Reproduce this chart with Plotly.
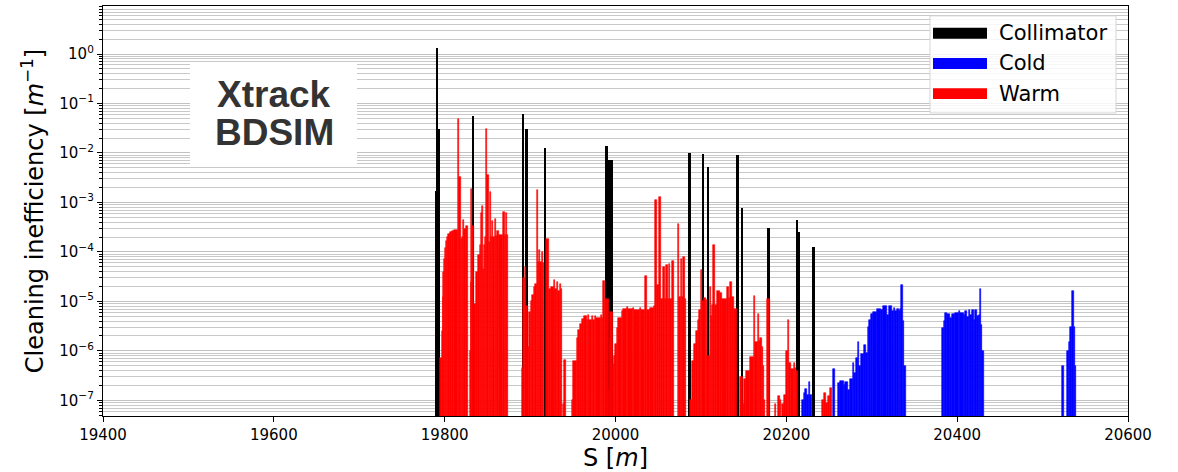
import numpy as np
import plotly.graph_objects as go

# ---------------- data (S in m, cleaning inefficiency in 1/m) ----------------
# Collimator losses (one bar per collimator)
coll_s = [19790.0, 19791.4, 19793.5, 19833.1, 19892.1, 19896.3, 19917.9,
          19989.9, 19993.0, 19995.5, 20087.0, 20102.7, 20108.9, 20143.3,
          20148.3, 20179.2, 20213.1, 20215.1, 20231.9]
coll_v = [1.7e-3, 1.3, 3.05e-2, 5.7e-2, 6.1e-2, 3.05e-2, 1.25e-2,
          1.4e-2, 7.3e-3, 7.1e-3, 1.01e-2, 9.6e-3, 5.1e-3, 9.3e-3,
          7.6e-4, 3.1e-4, 4.5e-4, 2.57e-4, 1.27e-4]

# Warm losses: start of each bin and its value (None closes a block)
warm_s = [
    19794.7, 19796.7, 19797.6, 19798.5, 19799.4, 19800.5, 19801.7, 19802.9, 19804.4, 19806.4,
    19808.7, 19811.1, 19815.4, 19816.9, 19818.7, 19820.8, 19822.0, 19823.1, 19824.8, 19826.9,
    19829.8, 19830.6, 19831.3, 19832.5, 19834.9, 19837.2, 19839.2, 19841.2, 19843.1, 19844.2,
    19845.4, 19846.2, 19847.7, 19848.9, 19850.1, 19851.7, 19852.9, 19854.1, 19855.6, 19857.1,
    19858.7, 19859.9, 19861.8, 19863.8, 19868.5, 19870.5, 19872.0, 19873.5, 19874.7,
    19890.4, 19891.9, 19894.2, 19895.4, 19897.4, 19898.9, 19900.7, 19902.1, 19904.0, 19905.9,
    19907.7, 19909.1, 19910.3, 19911.8, 19913.8, 19915.7, 19916.8, 19918.8, 19922.3, 19924.7,
    19927.6, 19928.5, 19929.7, 19931.7, 19932.9, 19935.2, 19936.4, 19937.6, 19938.4, 19939.9,
    19941.7,
    19948.9, 19950.8, 19954.5, 19956.6, 19958.6, 19960.6, 19963.7, 19966.5, 19968.0, 19969.2,
    19972.1, 19973.3, 19976.2, 19977.4, 19982.6, 19983.8, 19985.9, 19987.9, 19991.8, 19993.0,
    19994.1, 19996.5, 19998.5, 19999.6, 20001.6, 20003.5, 20007.5, 20009.3, 20013.7, 20014.9,
    20020.7, 20021.9, 20028.9, 20030.1, 20034.8, 20036.8, 20040.6, 20044.5, 20046.5, 20048.5,
    20051.5, 20053.2, 20055.5, 20057.4, 20059.4, 20060.9, 20062.9, 20064.0, 20066.7, 20067.9,
    20072.6, 20074.2, 20076.6, 20077.7, 20079.6, 20081.3, 20082.0,
    20087.5, 20089.8, 20092.1, 20094.1, 20096.5, 20098.3, 20100.3, 20101.5, 20103.9, 20105.4,
    20107.7, 20110.1, 20111.7, 20112.9, 20114.7, 20116.7, 20119.4, 20121.8, 20124.6, 20130.4,
    20132.3, 20134.3, 20136.3, 20139.0, 20141.7,
    20146.0, 20149.2, 20150.7, 20153.0, 20157.7, 20161.6, 20163.2, 20166.3, 20167.9, 20169.4,
    20171.0, 20172.6, 20173.3, 20175.6, 20176.8, 20180.3,
    20186.2, 20188.2, 20189.7, 20192.0, 20193.7, 20194.9, 20196.7, 20197.5, 20199.9, 20201.9,
    20203.7, 20205.4, 20208.4, 20210.1, 20211.6, 20213.9,
    20241.7, 20244.4, 20246.7, 20248.3, 20250.6, 20253.4,
]
warm_v = [
    7.3e-7, 2.5e-6, 1.2e-5, 4e-5, 7.3e-5, 1.2e-4, 1.7e-4, 2e-4, 2.3e-4, 2.5e-4,
    2.65e-4, 2.75e-4, 4.8e-2, 3.2e-3, 1.8e-4, 2e-4, 4.5e-4, 2.9e-4, 3.4e-4, None,
    1e-6, 2.5e-5, 1.9e-3, 3.4e-4, 9e-6, 4e-5, 8.5e-5, 1.35e-4, 6.2e-4, 8.5e-4,
    4.6e-5, 1.4e-4, 2e-4, 3e-2, 3.6e-3, 1.6e-4, 1.6e-3, 2e-4, 4.3e-4, 2e-4,
    4.6e-4, 2.1e-4, 2.7e-4, 2.2e-4, 6.5e-4, 2.2e-4, 6.2e-4, 2.2e-4, None,
    4.6e-7, 3e-5, 5e-5, 8e-6, 1.2e-6, 6e-6, 1e-5, 1.35e-5, 2e-5, 2.3e-5,
    1.8e-3, 6.3e-5, 1.1e-4, 6.3e-5, 1e-4, 6e-5, None, 1.8e-4, 1.8e-5, 2e-5,
    1.6e-5, 2.7e-5, 1.8e-5, 2.5e-5, 1.6e-5, 2.2e-5, 1.8e-5, None, 8.5e-8, 6.6e-7,
    None,
    1e-7, 6.3e-7, 1.8e-6, 2.6e-6, 3.5e-6, 4.4e-6, 5e-6, 4.3e-6, 5.2e-6, 4.3e-6,
    5e-6, 4.3e-6, 5e-6, 4.6e-6, 5.2e-6, 4.6e-6, 2.6e-5, 1.1e-5, 1.6e-7, 1.8e-6,
    6e-6, 5.4e-7, 8e-7, 1.35e-6, 2.9e-6, 4.6e-6, 6.3e-6, 7e-6, 7.8e-6, 7e-6,
    7.5e-6, 6.8e-6, 7.3e-6, 6.6e-6, 3.2e-5, 6.8e-6, 7.4e-6, 8e-6, 1.1e-3, 2.1e-5,
    1.26e-3, 1.1e-5, 5e-5, 1.1e-5, 5.4e-5, 1.1e-5, 5.8e-5, 1.1e-5, 6.6e-5, None,
    3.7e-4, 1.2e-5, 7.2e-5, 1.2e-5, 8e-5, 1.1e-5, None,
    1e-7, 6.2e-7, 1.35e-6, 2.5e-6, 4.3e-6, 6.8e-6, 4.3e-5, 1e-5, 1.16e-5, 1.07e-5,
    8e-7, 2e-5, 5e-6, 8.6e-6, 1.4e-4, 8.6e-6, 1.66e-5, 1.5e-5, 1.1e-5, 2e-5,
    1.15e-5, 2.5e-5, 1.2e-5, 7e-6, None,
    2.9e-7, 8.5e-8, 2.7e-7, 3.9e-7, 7.4e-7, 1.27e-5, 1.5e-6, 5.5e-6, 1.6e-6, 1.85e-6,
    1.2e-6, 5e-7, 1e-7, None, 1.1e-5, None,
    8.5e-8, None, 1.2e-7, 1e-7, None, 8.5e-8, None, 1.3e-7, 1e-6, 4.3e-6,
    5.8e-7, 4.3e-7, 5.8e-7, 4.5e-7, 4e-7, None,
    1e-7, 1.4e-7, 9e-8, 1.2e-7, 1.8e-7, None,
]

# Cold losses
cold_s = [
    20218.3, 20220.1, 20222.1, 20224.1, 20226.0, 20228.0, 20229.5,
    20254.6, 20256.9,
    20260.4, 20263.1, 20267.0, 20269.0, 20271.7, 20274.0, 20277.5, 20279.5, 20281.5, 20283.4,
    20285.4, 20287.4, 20291.2, 20293.2, 20295.1, 20297.1, 20299.1, 20301.0, 20306.1, 20310.8,
    20312.7, 20317.8, 20319.7, 20323.7, 20325.5, 20327.5, 20329.5, 20331.4, 20333.4, 20334.6,
    20336.1, 20337.7, 20339.6,
    20382.2, 20384.1, 20386.1, 20388.1, 20391.9, 20393.9, 20397.8, 20401.7, 20403.7, 20407.5,
    20409.5, 20411.5, 20413.4, 20415.4, 20417.4, 20419.2, 20421.2, 20423.2, 20425.1, 20426.3,
    20428.3, 20429.4, 20430.9,
    20522.8, 20524.6, 20528.6, 20530.5, 20532.5, 20534.5, 20536.3, 20538.3, 20539.5,
]
cold_v = [
    1e-7, 1.4e-7, 1.7e-7, 1.3e-7, 2.4e-7, 1.3e-7, None,
    4.3e-7, None,
    2.2e-7, 2.5e-7, 2e-7, 2.3e-7, 1.6e-7, 2.7e-7, 5.8e-7, 3.5e-7, 7.2e-7, 1.5e-6,
    5e-7, 8.6e-7, 1.3e-6, 9e-7, 3.1e-6, 4.3e-6, 5.5e-6, 6e-6, 7e-6, 6.6e-6,
    8.1e-6, 5.4e-6, 7.9e-6, 6.4e-6, 7.2e-6, 6.3e-6, 7e-6, 6.4e-6, 7e-6, 2.1e-5,
    4e-6, 5e-7, None,
    2.9e-6, 4e-6, 5.8e-6, 5.5e-6, 4.6e-6, 5.5e-6, 5.8e-6, 6.4e-6, 5.8e-6, 5.2e-6,
    6.4e-6, 4.9e-6, 6.6e-6, 5.4e-6, 6.6e-6, 4.3e-6, 6.6e-6, 5e-6, 5.2e-6, 1.75e-5,
    3.4e-6, 1e-6, None,
    5e-7, None, 1e-6, 1.5e-6, 3e-6, 1.66e-5, 3e-6, 5e-7, None,
]

x_ticks = [19400, 19600, 19800, 20000, 20200, 20400, 20600]
y_exps = [0, -1, -2, -3, -4, -5, -6, -7]
legend_labels = ["Collimator", "Cold", "Warm"]
legend_colors = ["black", "blue", "red"]


def to_bins(s, v):
    s = np.asarray(s, dtype=float)
    xs, ys, ws = [], [], []
    for i in range(len(s) - 1):
        if v[i] is None:
            continue
        xs.append(s[i])
        ys.append(v[i])
        ws.append(s[i + 1] - s[i])
    return xs, ys, ws


fig = go.Figure()

fig.add_trace(go.Bar(x=coll_s, y=coll_v, width=2.2,
                     marker=dict(color="black", line=dict(width=0)),
                     name="Collimator", showlegend=False))
cx, cy, cw = to_bins(cold_s, cold_v)
fig.add_trace(go.Bar(x=cx, y=cy, width=cw, offset=0,
                     marker=dict(color="blue", line=dict(width=0.6, color="blue")),
                     name="Cold", showlegend=False))
wx, wy, ww = to_bins(warm_s, warm_v)
fig.add_trace(go.Bar(x=wx, y=wy, width=ww, offset=0,
                     marker=dict(color="red", line=dict(width=0.6, color="red")),
                     name="Warm", showlegend=False))

FONT = "DejaVu Sans"
W, H = 1178, 472
L, R, T, B = 103, 50, 5, 53
pw, ph = W - L - R, H - T - B


def px(xp):
    return (xp - L) / pw


def py(yp):
    return (H - B - yp) / ph


minor_vals = [k * 10.0 ** e for e in range(-8, 1) for k in range(2, 10)]

fig.update_layout(
    width=W, height=H,
    margin=dict(l=L, r=R, t=T, b=B),
    paper_bgcolor="white", plot_bgcolor="white",
    barmode="overlay", bargap=0,
    font=dict(family=FONT, color="black", size=15),
    showlegend=False,
    xaxis=dict(
        range=[19400, 20600], tickmode="array", tickvals=x_ticks,
        ticktext=[str(t) for t in x_ticks],
        showgrid=False, zeroline=False,
        showline=True, linecolor="black", linewidth=1.3, mirror=True,
        ticks="outside", ticklen=5, tickwidth=1.2, tickcolor="black",
        tickfont=dict(family=FONT, size=15),
        title=dict(text="S [<i>m</i>]", font=dict(family=FONT, size=24), standoff=6),
    ),
    yaxis=dict(
        type="log", range=[-7.316, 0.97],
        tickmode="array", tickvals=[10.0 ** e for e in y_exps],
        ticktext=["10<sup>%s</sup>" % (str(e) if e >= 0 else "\u2212" + str(-e)) for e in y_exps],
        showgrid=True, gridcolor="#c2c2c2", gridwidth=1,
        zeroline=False,
        showline=True, linecolor="black", linewidth=1.3, mirror=True,
        ticks="outside", ticklen=5, tickwidth=1.2, tickcolor="black",
        tickfont=dict(family=FONT, size=15),
        minor=dict(tickmode="array", tickvals=minor_vals, showgrid=True,
                   gridcolor="#c8c8c8", gridwidth=1, ticks="outside", ticklen=3,
                   tickcolor="black", tickwidth=1),
        title=dict(text="Cleaning inefficiency [<i>m</i><sup>\u22121</sup>]",
                   font=dict(family=FONT, size=24), standoff=8),
    ),
)

shapes = []
annotations = []

# Text box "Xtrack / BDSIM"
shapes.append(dict(type="rect", xref="paper", yref="paper", x0=px(190), x1=px(357),
                   y0=py(165), y1=py(63), fillcolor="white", line=dict(width=0), layer="above"))
for txt, yc in [("Xtrack", 94.5), ("BDSIM", 132.5)]:
    annotations.append(dict(text="<b>%s</b>" % txt, xref="paper", yref="paper",
                            x=px(274), y=py(yc), xanchor="center", yanchor="middle",
                            showarrow=False,
                            font=dict(family="Liberation Sans", size=37, color="#333333")))

# Legend (drawn as a matplotlib-style box)
shapes.append(dict(type="rect", xref="paper", yref="paper", x0=px(930), x1=px(1116),
                   y0=py(113), y1=py(15), fillcolor="rgba(255,255,255,0.85)",
                   line=dict(color="#d5d5d5", width=1), layer="above"))
for i, (lab, col) in enumerate(zip(legend_labels, legend_colors)):
    yc = 32.5 + i * 30.5
    shapes.append(dict(type="rect", xref="paper", yref="paper", x0=px(933), x1=px(987),
                       y0=py(yc + 5.5), y1=py(yc - 5.5), fillcolor=col,
                       line=dict(width=0), layer="above"))
    annotations.append(dict(text=lab, xref="paper", yref="paper", x=px(997), y=py(yc),
                            xanchor="left", yanchor="middle", showarrow=False,
                            font=dict(family=FONT, size=21, color="black")))

fig.update_layout(shapes=shapes, annotations=annotations)

fig.write_html("out.html")
